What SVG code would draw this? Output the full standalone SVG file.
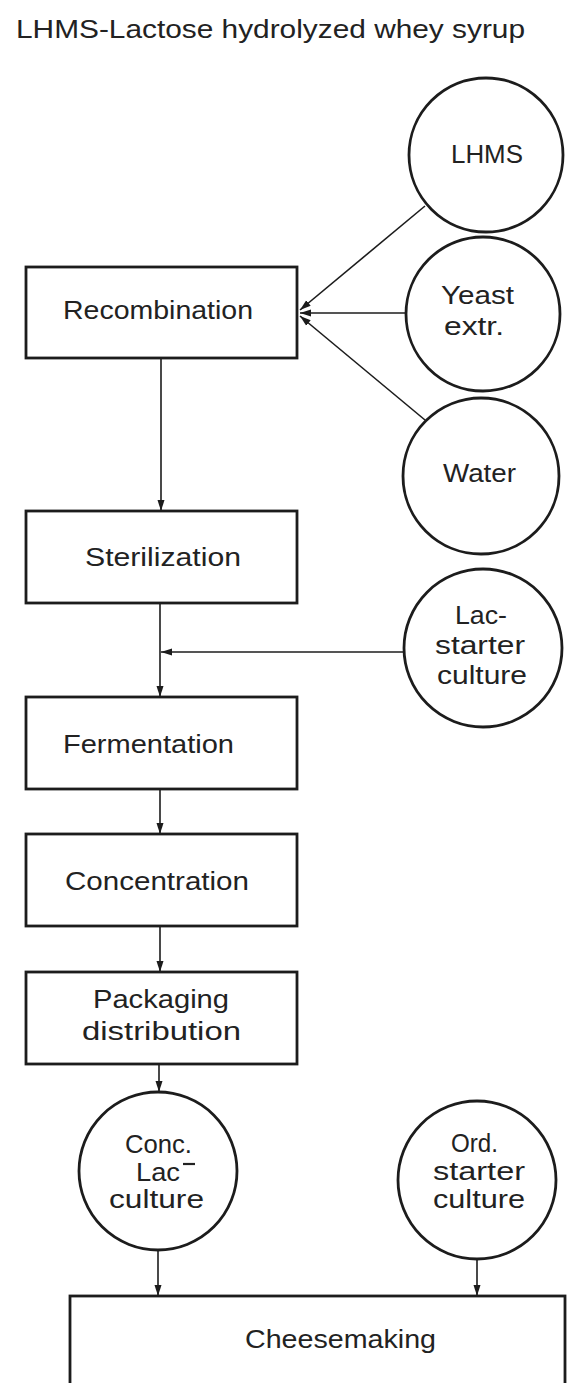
<svg xmlns="http://www.w3.org/2000/svg" width="568" height="1383" viewBox="0 0 568 1383">
<style>
.box{fill:none;stroke:#1c1c1c;stroke-width:2.8}
.node{fill:none;stroke:#1c1c1c;stroke-width:2.8}
.ln{fill:none;stroke:#1c1c1c;stroke-width:1.6}
text{font-family:"Liberation Sans","DejaVu Sans",sans-serif;font-size:26px;fill:#222}
</style>
<defs>
<marker id="ah" markerUnits="userSpaceOnUse" markerWidth="12" markerHeight="8" refX="11" refY="4" orient="auto">
<path d="M0,0.5 L11,4 L0,7.5 z" fill="#1c1c1c"/>
</marker>
</defs>
<rect width="568" height="1383" fill="#fff"/>
<text x="16" y="38" textLength="509" lengthAdjust="spacingAndGlyphs">LHMS-Lactose hydrolyzed whey syrup</text>

<g id="connectors">
<line class="ln" x1="425" y1="206" x2="300" y2="310" marker-end="url(#ah)"/>
<line class="ln" x1="406" y1="313" x2="300" y2="313" marker-end="url(#ah)"/>
<line class="ln" x1="425" y1="420" x2="300" y2="316" marker-end="url(#ah)"/>
<line class="ln" x1="161" y1="358" x2="161" y2="511" marker-end="url(#ah)"/>
<line class="ln" x1="160" y1="603" x2="160" y2="697" marker-end="url(#ah)"/>
<line class="ln" x1="403" y1="652" x2="161" y2="652" marker-end="url(#ah)"/>
<line class="ln" x1="160" y1="789" x2="160" y2="834" marker-end="url(#ah)"/>
<line class="ln" x1="160" y1="926" x2="160" y2="972" marker-end="url(#ah)"/>
<line class="ln" x1="159" y1="1064" x2="159" y2="1092" marker-end="url(#ah)"/>
<line class="ln" x1="158" y1="1250" x2="158" y2="1296" marker-end="url(#ah)"/>
<line class="ln" x1="477" y1="1259" x2="477" y2="1296" marker-end="url(#ah)"/>
</g>

<g id="lhms">
<circle class="node" cx="486" cy="155" r="77"/>
<text x="451" y="163" textLength="72" lengthAdjust="spacingAndGlyphs">LHMS</text>
</g>
<g id="yeast">
<circle class="node" cx="483" cy="314" r="77"/>
<text x="441" y="304" textLength="73" lengthAdjust="spacingAndGlyphs">Yeast</text>
<text x="444" y="335" textLength="60" lengthAdjust="spacingAndGlyphs">extr.</text>
</g>
<g id="water">
<circle class="node" cx="481" cy="476" r="78"/>
<text x="443" y="482" textLength="73" lengthAdjust="spacingAndGlyphs">Water</text>
</g>
<g id="lac">
<circle class="node" cx="483" cy="648" r="79"/>
<text x="455" y="624" textLength="52" lengthAdjust="spacingAndGlyphs">Lac-</text>
<text x="435" y="654" textLength="90" lengthAdjust="spacingAndGlyphs">starter</text>
<text x="437" y="684" textLength="90" lengthAdjust="spacingAndGlyphs">culture</text>
</g>

<g id="recombination">
<rect class="box" x="26" y="267" width="271" height="91"/>
<text x="63" y="319" textLength="190" lengthAdjust="spacingAndGlyphs">Recombination</text>
</g>
<g id="sterilization">
<rect class="box" x="26" y="511" width="271" height="92"/>
<text x="85" y="566" textLength="156" lengthAdjust="spacingAndGlyphs">Sterilization</text>
</g>
<g id="fermentation">
<rect class="box" x="26" y="697" width="271" height="92"/>
<text x="63" y="753" textLength="171" lengthAdjust="spacingAndGlyphs">Fermentation</text>
</g>
<g id="concentration">
<rect class="box" x="26" y="834" width="271" height="92"/>
<text x="65" y="890" textLength="184" lengthAdjust="spacingAndGlyphs">Concentration</text>
</g>
<g id="packaging">
<rect class="box" x="26" y="972" width="271" height="92"/>
<text x="93" y="1008" textLength="136" lengthAdjust="spacingAndGlyphs">Packaging</text>
<text x="82" y="1040" textLength="159" lengthAdjust="spacingAndGlyphs">distribution</text>
</g>
<g id="conc-lac">
<circle class="node" cx="158" cy="1171" r="79"/>
<text x="125" y="1153" textLength="67" lengthAdjust="spacingAndGlyphs">Conc.</text>
<text x="136" y="1181" textLength="44" lengthAdjust="spacingAndGlyphs">Lac</text>
<line x1="183" y1="1164" x2="195" y2="1164" stroke="#222" stroke-width="2.2"/>
<text x="109" y="1208" textLength="95" lengthAdjust="spacingAndGlyphs">culture</text>
</g>
<g id="ord-starter">
<circle class="node" cx="477" cy="1180" r="79"/>
<text x="451" y="1152" textLength="47" lengthAdjust="spacingAndGlyphs">Ord.</text>
<text x="433" y="1180" textLength="92" lengthAdjust="spacingAndGlyphs">starter</text>
<text x="433" y="1208" textLength="92" lengthAdjust="spacingAndGlyphs">culture</text>
</g>
<g id="cheesemaking">
<rect class="box" x="70" y="1296" width="495" height="100"/>
<text x="245" y="1348" textLength="191" lengthAdjust="spacingAndGlyphs">Cheesemaking</text>
</g>
</svg>
